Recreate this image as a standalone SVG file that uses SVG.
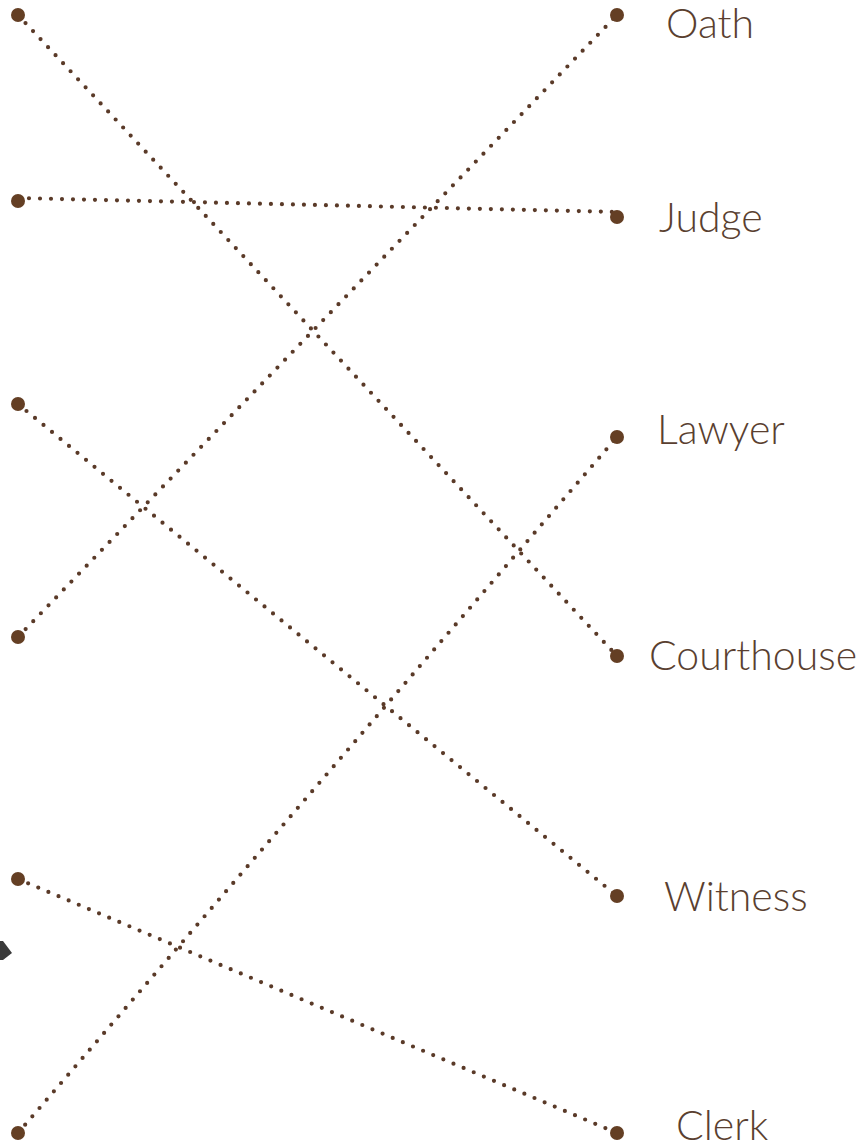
<svg xmlns="http://www.w3.org/2000/svg" width="864" height="1148" viewBox="0 0 864 1148">
<style>
.c line{stroke:#5a3a28;stroke-width:4.2;stroke-linecap:round;stroke-dasharray:0 11;fill:none}
.dot{fill:#643f24}
.lbl{font-family:Lato,"Open Sans",sans-serif;font-weight:300;font-size:41px;fill:#5a3f30}
</style>
<rect width="864" height="1148" fill="#fff"/>
<g class="c" id="connectors">
<line x1="18" y1="15" x2="617" y2="656"/>
<line x1="18" y1="198" x2="617" y2="212"/>
<line x1="18" y1="404" x2="617" y2="896"/>
<line x1="18" y1="637" x2="617" y2="15"/>
<line x1="18" y1="879" x2="617" y2="1133"/>
<line x1="18" y1="1133" x2="617" y2="437"/>
</g>
<g id="left-1"><circle class="dot" cx="18" cy="15" r="7"/></g>
<g id="left-2"><circle class="dot" cx="18" cy="201" r="7"/></g>
<g id="left-3"><circle class="dot" cx="18" cy="404" r="7"/></g>
<g id="left-4"><circle class="dot" cx="18" cy="637" r="7"/></g>
<g id="left-5"><circle class="dot" cx="18" cy="879" r="7"/></g>
<g id="left-6"><circle class="dot" cx="18" cy="1133" r="7"/></g>
<g id="oath"><circle class="dot" cx="617" cy="15" r="7"/><text class="lbl" x="666" y="38">Oath</text></g>
<g id="judge"><circle class="dot" cx="617" cy="217" r="7"/><text class="lbl" x="659" y="232">Judge</text></g>
<g id="lawyer"><circle class="dot" cx="617" cy="437" r="7"/><text class="lbl" x="657" y="444">Lawyer</text></g>
<g id="courthouse"><circle class="dot" cx="617" cy="656" r="7"/><text class="lbl" x="649" y="670">Courthouse</text></g>
<g id="witness"><circle class="dot" cx="617" cy="896" r="7"/><text class="lbl" x="664" y="911">Witness</text></g>
<g id="clerk"><circle class="dot" cx="617" cy="1133" r="7"/><text class="lbl" x="676" y="1140">Clerk</text></g>
<polygon points="0,941 3,941 12,953 3,960 0,960" fill="#3a3a3a"/>
</svg>
